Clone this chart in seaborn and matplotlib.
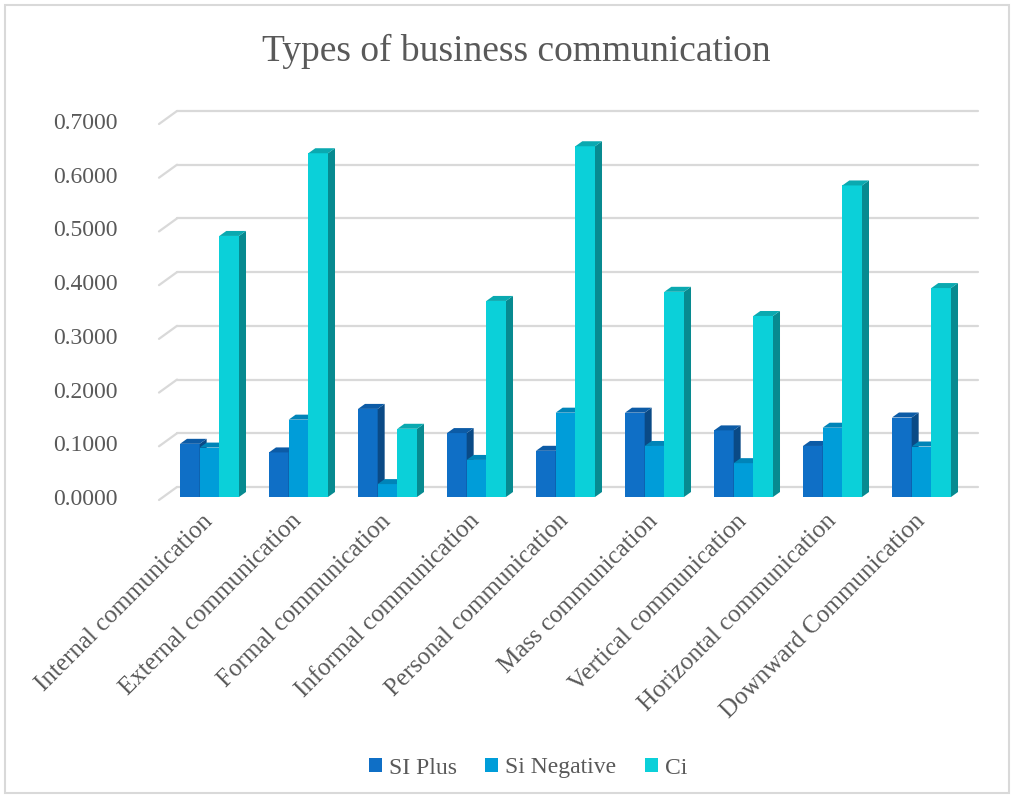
import numpy as np
import pandas as pd
import matplotlib
matplotlib.use("Agg")
import matplotlib.pyplot as plt
import seaborn as sns
from matplotlib.patches import Polygon, Rectangle, Patch
from matplotlib.transforms import ScaledTranslation, blended_transform_factory

# ---------------- data ----------------
categories = ["Internal communication", "External communication", "Formal communication",
              "Informal communication", "Personal communication", "Mass communication",
              "Vertical communication", "Horizontal communication", "Downward Communication"]
series_names = ["SI Plus", "Si Negative", "Ci"]
si_plus = [0.099, 0.083, 0.164, 0.119, 0.086, 0.157, 0.124, 0.095, 0.148]
si_negative = [0.092, 0.144, 0.024, 0.069, 0.157, 0.095, 0.063, 0.129, 0.094]
ci = [0.486, 0.640, 0.127, 0.365, 0.653, 0.382, 0.337, 0.580, 0.389]
y_ticks = [0.0, 0.1, 0.2, 0.3, 0.4, 0.5, 0.6, 0.7]
title = "Types of business communication"

# ---------------- styles ----------------
front_colors = ["#0F6FC6", "#009DD9", "#0BD0D9"]
side_colors = ["#0A4A86", "#006E9A", "#078A90"]
top_colors = ["#0C5BA6", "#0084B8", "#0AA9B0"]
text_color = "#595959"
grid_color = "#D9D9D9"

df = pd.DataFrame({"category": categories, "SI Plus": si_plus,
                   "Si Negative": si_negative, "Ci": ci})
long = df.melt(id_vars="category", var_name="series", value_name="value")

sns.set_theme(style="white")
plt.rcParams["font.family"] = ["Liberation Serif", "DejaVu Serif"]

W, H, DPI = 1014, 798, 100
fig = plt.figure(figsize=(W / DPI, H / DPI), dpi=DPI)

# axes placement (pixels)
ax_left, ax_right, ax_bottom, ax_top = 165, 966, 497, 121
ax = fig.add_axes([ax_left / W, 1 - ax_bottom / H, (ax_right - ax_left) / W, (ax_bottom - ax_top) / H])

sns.barplot(data=long, x="category", y="value", hue="series", hue_order=series_names,
            palette=front_colors, width=0.663, gap=0, ax=ax, legend=False,
            linewidth=0, edgecolor="none", saturation=1)

ax.set_xlim(-0.5, len(categories) - 0.5)
ax.set_ylim(0, 0.7)
for s in ax.spines.values():
    s.set_visible(False)
ax.set_xlabel("")
ax.set_ylabel("")
ax.set_yticks(y_ticks)
ax.set_yticklabels([f"{v:.4f}" for v in y_ticks])
ax.tick_params(axis="y", length=0, pad=34, labelsize=17, labelcolor=text_color)
ax.tick_params(axis="x", length=0, pad=15, labelsize=18, labelcolor=text_color)
for lab in ax.get_xticklabels():
    lab.set_rotation(45)
    lab.set_ha("right")
    lab.set_va("center")
    lab.set_rotation_mode("anchor")
ax.grid(False)

# 3D-like back-wall gridlines with left diagonals
def px(dx, dy):
    return ScaledTranslation(dx / DPI, -dy / DPI, fig.dpi_scale_trans)

blend = blended_transform_factory(ax.transAxes, ax.transData)
for v in y_ticks:
    ax.plot([0, 1], [v, v], transform=blend + px(12, -10), color=grid_color,
            lw=1.6, zorder=0.5, clip_on=False)
    p0 = (blend + px(-6, 3)).transform((0, v))
    p1 = (blend + px(12, -10)).transform((0, v))
    ax.add_line(matplotlib.lines.Line2D([p0[0], p1[0]], [p0[1], p1[1]], transform=None,
                                        color=grid_color, lw=1.6, zorder=0.5, clip_on=False))

# 3D sides and tops of the bars
fig.canvas.draw()
ddx, ddy = 7, 5  # depth in pixels
for i, cont in enumerate(ax.containers):
    for bar in cont:
        bar.set_zorder(3 + i)
        x0, y0 = bar.get_x(), bar.get_y()
        w, h = bar.get_width(), bar.get_height()
        (xa, ya) = ax.transData.transform((x0, y0))
        (xb, yb) = ax.transData.transform((x0 + w, y0 + h))
        side = Polygon([(xb, ya), (xb + ddx, ya + ddy), (xb + ddx, yb + ddy), (xb, yb)],
                       closed=True, transform=None, facecolor=side_colors[i],
                       edgecolor="none", zorder=3 + i, clip_on=False)
        top = Polygon([(xa, yb), (xb, yb), (xb + ddx, yb + ddy), (xa + ddx, yb + ddy)],
                      closed=True, transform=None, facecolor=top_colors[i],
                      edgecolor="none", zorder=3 + i, clip_on=False)
        ax.add_artist(side)
        ax.add_artist(top)

# title
fig.text(516 / W, 1 - 51 / H, title, ha="center", va="center", fontsize=27, color=text_color)

# legend
handles = [Patch(facecolor=c, edgecolor="none", label=n) for c, n in zip(front_colors, series_names)]
fig.legend(handles=handles, loc="center", bbox_to_anchor=(528 / W, 1 - 768 / H), ncol=3,
           frameon=False, fontsize=17, labelcolor=text_color, handlelength=0.55,
           handleheight=0.55, handletextpad=0.3, columnspacing=1.2)

# figure border
fig.add_artist(Rectangle((5 / W, 5 / H), 1004 / W, 788 / H, transform=fig.transFigure,
                         fill=False, edgecolor=grid_color, lw=1.5))

fig.savefig("out.png", dpi=DPI, facecolor="white")
